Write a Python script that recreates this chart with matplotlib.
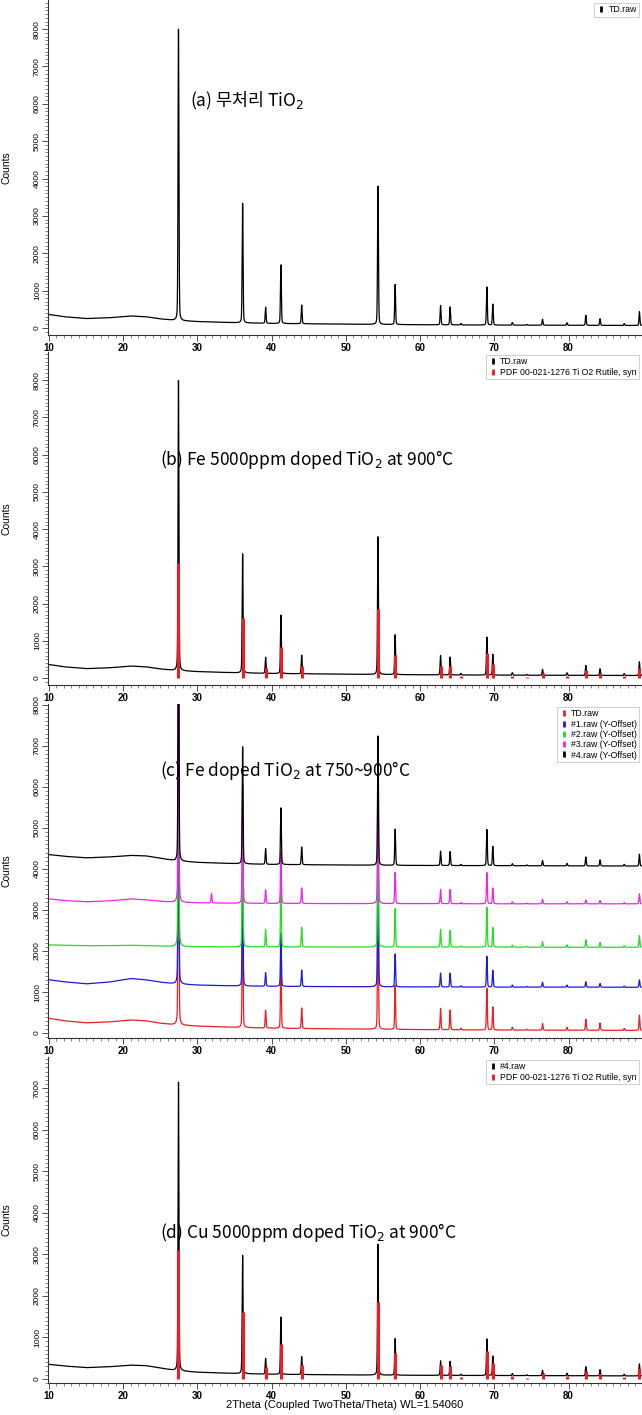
import numpy as np
import matplotlib
matplotlib.use("agg")
from matplotlib import pyplot as plt
from matplotlib.lines import Line2D
from matplotlib.ticker import MultipleLocator

plt.rcParams['font.family'] = ['Liberation Sans', 'DejaVu Sans']

# rutile reflections, 2theta (deg)
peak_pos = [27.45, 36.09, 39.19, 41.25, 44.05, 54.33, 56.64, 62.76, 64.05, 65.5,
            69.0, 69.8, 72.43, 74.4, 76.5, 79.8, 82.33, 84.25, 87.5, 89.55]

# peak heights above background (counts)
td_h = [7800, 3200, 430, 1570, 500, 3700, 1070, 520, 480, 40,
        1020, 560, 70, 20, 160, 70, 270, 180, 50, 370]
s1_h = [7000, 2900, 330, 1300, 400, 3400, 800, 340, 340, 30,
        750, 410, 50, 15, 120, 50, 130, 90, 30, 180]
s2_h = [7500, 3100, 420, 1500, 480, 3600, 935, 425, 405, 30,
        970, 475, 50, 20, 140, 60, 185, 120, 40, 285]
s3_h = [7200, 2900, 330, 1250, 380, 3300, 760, 345, 345, 30,
        760, 385, 50, 15, 110, 50, 95, 80, 30, 245]
s4_h = [6950, 2850, 380, 1380, 430, 3150, 880, 350, 340, 30,
        880, 470, 50, 20, 130, 60, 220, 150, 40, 290]
s3_extra_pos = [31.9]
s3_extra_h = [230]

# background level (counts, before Y-offset) at these angles
bg_theta = [10, 12, 15, 18, 21, 23, 25, 27, 30, 35, 40, 50, 60, 70, 80, 90]
td_bg = [360, 300, 250, 270, 320, 300, 240, 200, 170, 140, 120, 100, 85, 75, 70, 65]
s1_bg = [300, 250, 200, 240, 330, 300, 240, 200, 170, 150, 140, 130, 125, 120, 120, 115]
s2_bg = [150, 140, 130, 130, 140, 130, 120, 110, 105, 100, 100, 95, 95, 95, 90, 90]
s3_bg = [270, 230, 200, 220, 270, 250, 210, 190, 175, 165, 160, 155, 155, 150, 150, 150]
s4_bg = [350, 310, 270, 290, 330, 320, 260, 200, 160, 130, 110, 95, 85, 80, 75, 70]
y_offsets = [0, 1000, 2000, 3000, 4000]
no_bg = [0] * 16

# PDF 00-021-1276 rutile stick pattern (counts as drawn)
pdf_h = [3100, 1600, 280, 830, 330, 1850, 620, 330, 320, 40,
         660, 380, 60, 30, 130, 60, 200, 110, 50, 260]

grid = np.arange(9.8, 90.0, 0.01)


def pattern(bg, heights, pos=peak_pos):
    y = np.interp(grid, bg_theta, bg)
    for p, h in zip(pos, heights):
        u = (grid - p) / 0.07
        y = y + h * (0.75 * np.exp(-np.log(2) * u * u) + 0.25 / (1 + u * u))
    return y


def setup(ax, ylim):
    ax.set_xlim(9.87, 89.9)
    ax.set_ylim(*ylim)
    ax.spines['top'].set_visible(False)
    ax.spines['right'].set_visible(False)
    for s in ('left', 'bottom'):
        ax.spines[s].set_color('#333333')
        ax.spines[s].set_linewidth(0.8)
    ax.xaxis.set_major_locator(MultipleLocator(10))
    ax.xaxis.set_minor_locator(MultipleLocator(1))
    ax.yaxis.set_major_locator(MultipleLocator(1000))
    ax.yaxis.set_minor_locator(MultipleLocator(100))
    ax.tick_params(axis='both', which='major', length=4, width=0.6, color='#333333')
    ax.tick_params(axis='both', which='minor', length=2, width=0.5, color='#555555')
    ax.tick_params(axis='x', labelsize=7, pad=2)
    ax.tick_params(axis='y', labelsize=6, pad=1)
    for lbl in ax.get_yticklabels():
        lbl.set_rotation(90)
        lbl.set_va('center')
    xt = list(range(10, 90, 10))
    ax.set_xticks(xt)
    ax.set_xticklabels([str(t) for t in xt], fontweight='bold')
    ax.set_ylabel('Counts', fontsize=7.5)
    ax.yaxis.set_label_coords(-0.062, 0.5)


def legend(ax, labels, colors):
    handles = [Line2D([], [], color=c, marker='|', linestyle='None',
                      markersize=5, markeredgewidth=2) for c in colors]
    leg = ax.legend(handles, labels, loc='upper right', fontsize=6.3,
                    frameon=True, fancybox=False, borderaxespad=0.3,
                    handletextpad=0.3, borderpad=0.3, labelspacing=0.15,
                    handlelength=1.0)
    leg.get_frame().set_edgecolor('#bbbbbb')
    leg.get_frame().set_linewidth(0.6)


title_font = ['Noto Sans CJK KR', 'DejaVu Sans']
RED = '#ee1c24'
cols_c = [RED, '#1a1adc', '#22dd22', '#ee22ee', '#000000']

fig = plt.figure(figsize=(6.42, 14.15), dpi=100)
L, W = 48 / 642, 594 / 642
H = 1415.0
boxes = [(0, 335), (352, 685), (704, 1038), (1057, 1383)]
axes = [fig.add_axes([L, 1 - b / H, W, (b - t) / H]) for t, b in boxes]

td = pattern(td_bg, td_h)
s1 = pattern(s1_bg, s1_h)
s2 = pattern(s2_bg, s2_h)
s3 = pattern(s3_bg, s3_h) + pattern(no_bg, s3_extra_h, s3_extra_pos)
s4 = pattern(s4_bg, s4_h)

# (a)
ax = axes[0]
ax.plot(grid, td, color='k', lw=0.9)
setup(ax, (-190, 8780))
legend(ax, ['TD.raw'], ['k'])
ax.text(0.239, 0.70, '(a) 무처리 TiO$_2$', transform=ax.transAxes,
        fontsize=12.5, family=title_font, va='center')

# (b)
ax = axes[1]
ax.plot(grid, td, color='k', lw=0.9)
ax.vlines(peak_pos, 0, pdf_h, color=RED, lw=2.2, zorder=3)
setup(ax, (-190, 8760))
legend(ax, ['TD.raw', 'PDF 00-021-1276 Ti O2 Rutile, syn'], ['k', RED])
ax.text(0.189, 0.676, '(b) Fe 5000ppm doped TiO$_2$ at 900°C',
        transform=ax.transAxes, fontsize=12.5, family=title_font, va='center')

# (c)
ax = axes[2]
for y, off, c in zip([td, s1, s2, s3, s4], y_offsets, cols_c):
    ax.plot(grid, y + off, color=c, lw=0.9)
setup(ax, (-120, 8020))
legend(ax, ['TD.raw', '#1.raw (Y-Offset)', '#2.raw (Y-Offset)',
            '#3.raw (Y-Offset)', '#4.raw (Y-Offset)'], cols_c)
ax.text(0.189, 0.80, '(c) Fe doped TiO$_2$ at 750~900°C',
        transform=ax.transAxes, fontsize=12.5, family=title_font, va='center')

# (d)
ax = axes[3]
ax.plot(grid, s4, color='k', lw=0.9)
ax.vlines(peak_pos, 0, pdf_h, color=RED, lw=2.2, zorder=3)
setup(ax, (-100, 7750))
legend(ax, ['#4.raw', 'PDF 00-021-1276 Ti O2 Rutile, syn'], ['k', RED])
ax.text(0.189, 0.463, '(d) Cu 5000ppm doped TiO$_2$ at 900°C',
        transform=ax.transAxes, fontsize=12.5, family=title_font, va='center')

fig.text(0.537, 1 - 1405 / H, '2Theta (Coupled TwoTheta/Theta) WL=1.54060',
         fontsize=8, ha='center', va='center')

fig.savefig('out.png', dpi=100)
